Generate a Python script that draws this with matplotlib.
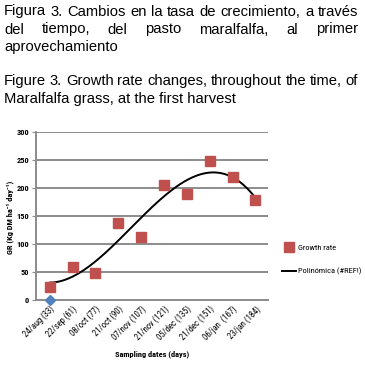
import matplotlib.pyplot as plt
import numpy as np

# data
dates = ['24/aug (33)', '22/sep (61)', '08/oct (77)', '21/oct (90)', '07/nov (107)',
         '21/nov (121)', '05/dec (135)', '21/dec (151)', '06/jan  (167)', '23/jan (184)']
growth = [24, 59, 48, 138, 113, 206, 189, 248, 220, 178]
blue_pt = [0]

caption_es = ['Figura 3. Cambios en la tasa de crecimiento, a través',
              'del tiempo, del pasto maralfalfa, al primer',
              'aprovechamiento']
caption_en = ['Figure 3. Growth rate changes, throughout the time, of',
              'Maralfalfa grass, at the first harvest']

W, H = 365, 383
fig = plt.figure(figsize=(W / 100, H / 100), dpi=100)
small = ['Liberation Sans Narrow', 'Roboto Condensed', 'Liberation Sans', 'DejaVu Sans']
cap_font = ['Liberation Sans', 'DejaVu Sans']

# caption text, justified lines placed word by word
renderer = fig.canvas.get_renderer()


def put_line(text, ybase, justify):
    x0, x1 = 4, 358
    if not justify:
        fig.text(x0 / W, 1 - ybase / H, text, fontsize=10.6, family=cap_font, va='baseline')
        return
    words = text.split(' ')
    arts = [fig.text(0, 1 - ybase / H, w, fontsize=10.6, family=cap_font, va='baseline') for w in words]
    widths = [a.get_window_extent(renderer).width for a in arts]
    gap = (x1 - x0 - sum(widths)) / (len(words) - 1)
    x = x0
    for a, wd in zip(arts, widths):
        a.set_x(x / W)
        x += wd + gap


put_line(caption_es[0], 15.5, True)
put_line(caption_es[1], 33.5, True)
put_line(caption_es[2], 51.5, False)
put_line(caption_en[0], 85, True)
put_line(caption_en[1], 103, False)

ax = fig.add_axes([36 / W, 1 - 300 / H, (268 - 36) / W, (300 - 132) / H])
x = np.arange(len(dates))

# polynomial trendline (3rd order) like Excel
coef = np.polyfit(x, growth, 3)
xs = np.linspace(0, len(dates) - 1, 200)
ax.plot(xs, np.polyval(coef, xs), color='black', lw=1.4, label='Polinómica (#REF!)', zorder=3)
ax.plot(x, growth, 's', color='#C0504D', ms=6.5, label='Growth rate', zorder=4)
ax.plot(x[:1], blue_pt, 'D', color='#4F81BD', ms=5, zorder=5, clip_on=False)

ax.set_xlim(-0.6, len(dates) - 0.45)
ax.set_ylim(0, 300)
ax.set_yticks(range(0, 301, 50))
ax.grid(axis='y', color='#8c8c8c', lw=1.4)
ax.set_axisbelow(True)
for s in ['top', 'right']:
    ax.spines[s].set_visible(False)
for s in ['left', 'bottom']:
    ax.spines[s].set_color('#8c8c8c')
    ax.spines[s].set_linewidth(1.4)
ax.tick_params(axis='y', length=3, color='#8c8c8c', labelsize=6, pad=2)
ax.tick_params(axis='x', length=0, labelsize=6.2, pad=3)
for lb in ax.get_yticklabels():
    lb.set_family(small)
    lb.set_fontweight('bold')
ax.set_xticks(x)
ax.set_xticklabels(dates, rotation=45, ha='right', rotation_mode='anchor', family=small)

ax.set_ylabel('GR (Kg DM ha⁻¹ day⁻¹)', fontsize=6, fontweight='bold', family=small)
ax.yaxis.set_label_coords(-0.095, 0.49)
ax.set_xlabel('Sampling dates (days)', fontsize=6, fontweight='bold', family=small, labelpad=6)

h, l = ax.get_legend_handles_labels()
fig.legend(h[::-1], l[::-1], loc='upper left', bbox_to_anchor=(278 / W, 1 - 240 / H),
           frameon=False, prop={'family': small, 'size': 6},
           handlelength=1.6, labelspacing=2.0, handletextpad=0.3, borderpad=0)

fig.savefig('out.png', dpi=100)
